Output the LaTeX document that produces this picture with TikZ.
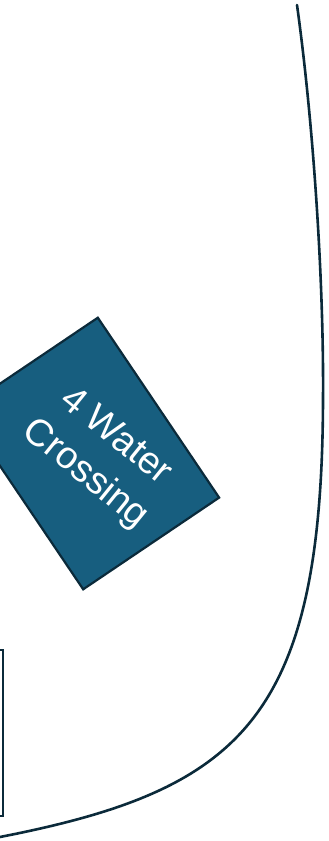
\documentclass[tikz,border=0pt]{standalone}
\usepackage{fontspec}
\setmainfont{Liberation Sans}
\usepackage{tikz}
\usetikzlibrary{positioning}
\definecolor{bluex}{HTML}{175E7F}
\definecolor{navyx}{HTML}{0B2A3A}
\tikzset{
  edge/.style={line width=2.6pt,navyx,line cap=round},
  zone/.style={draw=navyx,line width=2.2pt,fill=bluex,
    minimum width=217pt,minimum height=164pt,inner sep=0pt},
  zonetext/.style={text=white,align=center,inner sep=0pt,
    font=\fontsize{38}{48}\selectfont},
  frame/.style={draw=navyx,line width=2.2pt}
}
\begin{document}
\begin{tikzpicture}[x=1pt,y=-1pt]
\useasboundingbox (0,0) rectangle (329,841);
% outer boundary
\coordinate (top) at (297,5);
\coordinate (mid) at (323,400);
\coordinate (end) at (0,837);
\draw[edge] (top) .. controls (313,120) and (324,280) .. (mid)
  .. controls (322,720) and (240,790) .. (end);
\draw[frame] (-40,650) rectangle (3,816);
\node[zone,rotate=-56] (crossing) at (90.5,453.5) {};
\node[zonetext,rotate=-39] (crossinglabel) at (100,456) {4 Water\\Crossing};
\end{tikzpicture}
\end{document}
